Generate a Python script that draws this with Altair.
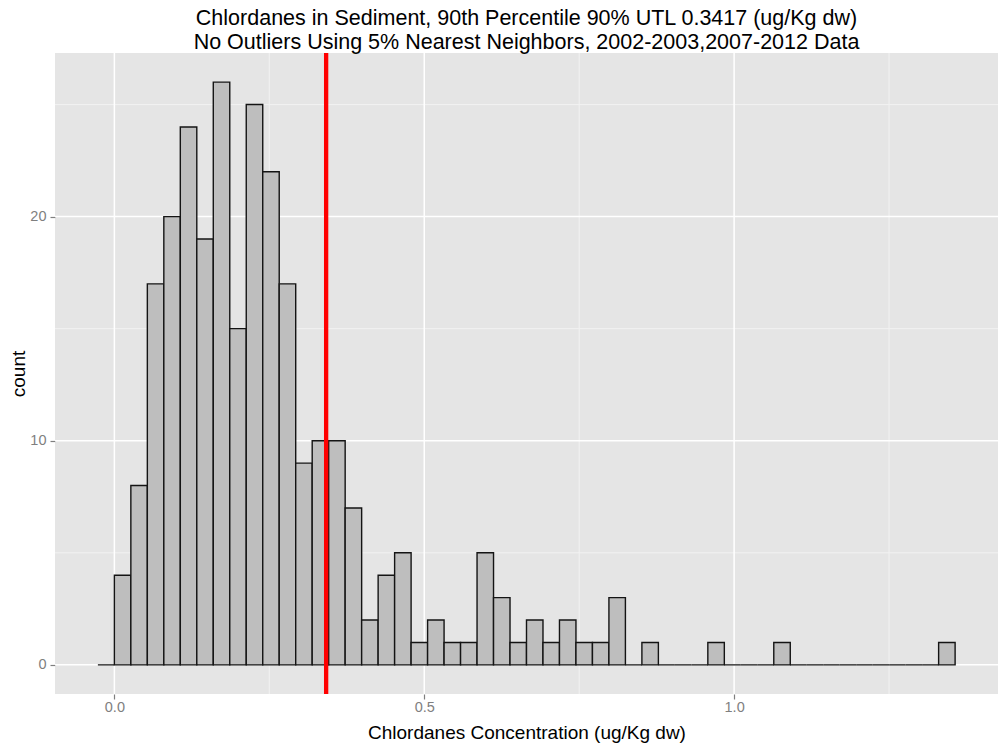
import altair as alt
import pandas as pd

# Histogram counts per bin (first bin starts one bin width below zero)
bin_start = -0.0266
bin_width = 0.0266
counts = [0, 4, 8, 17, 20, 24, 19, 26, 15, 25, 22, 17, 9, 10, 10, 7,
          2, 4, 5, 1, 2, 1, 1, 5, 3, 1, 2, 1, 2, 1, 1, 3, 0, 1,
          0, 0, 0, 1, 0, 0, 0, 1, 0, 0, 0, 0, 0, 0, 0, 0, 0, 1]

utl = 0.3417

x_major = [0.0, 0.5, 1.0]
x_minor = [0.25, 0.75, 1.25]
y_major = [0, 10, 20]
y_minor = [5, 15, 25]

x_domain = [-0.0958, 1.4258]
y_domain = [-1.3, 27.3]

title_lines = [
    "Chlordanes in Sediment, 90th Percentile 90% UTL 0.3417 (ug/Kg dw)",
    "No Outliers Using 5% Nearest Neighbors, 2002-2003,2007-2012 Data",
]

FONT = "Liberation Sans"
GREY50 = "#7F7F7F"

bins = pd.DataFrame({
    "lo": [bin_start + i * bin_width for i in range(len(counts))],
    "hi": [bin_start + (i + 1) * bin_width for i in range(len(counts))],
    "count": counts,
})

xs = alt.Scale(domain=x_domain, nice=False, zero=False)
ys = alt.Scale(domain=y_domain, nice=False, zero=False)

x_axis = alt.Axis(
    values=x_major, format=".1f", grid=False, domain=False,
    tickColor=GREY50, tickSize=5, tickWidth=1.2,
    labelColor=GREY50, labelFont=FONT, labelFontSize=14.5, labelPadding=1.5,
    title="Chlordanes Concentration (ug/Kg dw)", titleFont=FONT,
    titleFontSize=19, titleFontWeight="normal", titleColor="black",
    titleY=44, titleBaseline="alphabetic",
)
y_axis = alt.Axis(
    values=y_major, format="d", grid=False, domain=False,
    tickColor=GREY50, tickSize=5, tickWidth=1.2,
    labelColor=GREY50, labelFont=FONT, labelFontSize=14.5, labelPadding=4,
    title="count", titleFont=FONT, titleFontSize=19,
    titleFontWeight="normal", titleColor="black",
    titleX=-30.5, titleY=320.5, titleBaseline="alphabetic", titleAngle=-90,
)


def xenc(field):
    return alt.X(field, scale=xs, axis=x_axis)


def yenc(field):
    return alt.Y(field, scale=ys, axis=y_axis)


xminor = alt.Chart(pd.DataFrame({"v": x_minor})).mark_rule(
    color="#F2F2F2", strokeWidth=1
).encode(x=xenc("v:Q"))
yminor = alt.Chart(pd.DataFrame({"v": y_minor})).mark_rule(
    color="#F2F2F2", strokeWidth=1
).encode(y=yenc("v:Q"))
xmajor = alt.Chart(pd.DataFrame({"v": x_major})).mark_rule(
    color="white", strokeWidth=1.5
).encode(x=xenc("v:Q"))
ymajor = alt.Chart(pd.DataFrame({"v": y_major})).mark_rule(
    color="white", strokeWidth=1.5
).encode(y=yenc("v:Q"))

bars = alt.Chart(bins).mark_rect(
    fill="#BEBEBE", stroke="#141414", strokeWidth=1.4
).encode(
    x=xenc("lo:Q"),
    x2="hi:Q",
    y=yenc("count:Q"),
    y2=alt.datum(0),
)

vline = alt.Chart(pd.DataFrame({"v": [utl]})).mark_rule(
    color="#FF0000", strokeWidth=4.3
).encode(x=xenc("v:Q"))

chart = alt.layer(xminor, yminor, xmajor, ymajor, bars, vline).properties(
    width=943, height=641,
    background="white",
    title=alt.Title(
        text=title_lines, font=FONT, fontSize=21.5, fontWeight="normal",
        color="black", anchor="middle", lineHeight=24, offset=-3,
    ),
    padding={"left": 55, "top": 53, "right": 3, "bottom": 50},
    autosize=alt.AutoSizeParams(type="none"),
).configure_view(
    fill="#E5E5E5", stroke=None
)

chart.save("out.html", embed_options={"renderer": "svg", "actions": False})
